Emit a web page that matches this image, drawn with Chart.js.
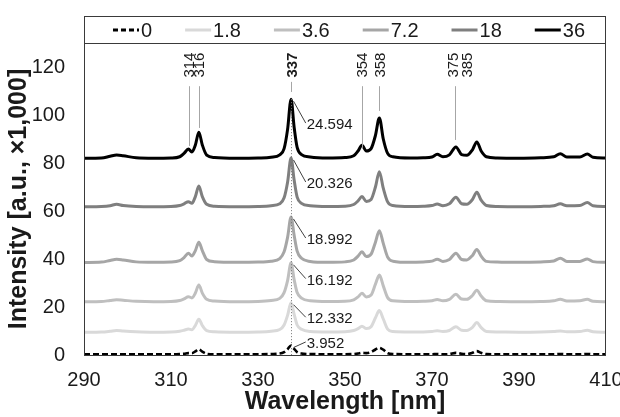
<!DOCTYPE html>
<html><head><meta charset="utf-8">
<script src="https://cdn.jsdelivr.net/npm/chart.js@4.4.1/dist/chart.umd.min.js"></script>
<style>html,body{margin:0;padding:0;background:#fff}#c{display:block}</style>
</head><body>
<canvas id="c" width="620" height="417" style="width:620px;height:417px"></canvas>
<script>
// ---- data ----
const wavelengths = [290,294,296,297.5,299,302,306,310,312,313,314,314.8,315.6,316.4,317.2,318.2,320,325,330,333,335,336,336.8,337.6,338.3,339,340,342,346,350,352,353,353.9,354.9,356,357,357.9,358.8,359.8,361,365,368,370,371.2,372.5,374,375.5,376.8,378,379.3,380.3,381.3,382.5,385,390,395,398,399.5,401,404,405.7,407,410];
const series0  = [0.3,0.3,0.3,0.3,0.3,0.3,0.3,0.3,0.4,0.5,0.8,0.8,1.5,2.4,1.4,0.5,0.3,0.3,0.3,0.4,0.6,1.2,2.4,3.95,2.6,1.2,0.6,0.4,0.3,0.3,0.4,0.6,0.9,0.8,1.2,2.3,3.0,2.2,0.8,0.4,0.3,0.3,0.3,0.4,0.3,0.4,0.9,0.5,0.4,0.9,1.6,0.9,0.4,0.3,0.3,0.3,0.3,0.4,0.3,0.3,0.4,0.3,0.3];
const series1_8 = [9.5,9.6,9.9,10.2,10.0,9.7,9.5,9.6,9.9,10.3,10.8,10.5,12.3,14.9,12.3,10.2,9.7,9.5,9.6,9.9,10.6,12.5,16.5,21.8,17.0,12.5,10.7,9.8,9.6,9.7,10.2,11.0,12.0,11.0,11.8,15.5,18.5,15.0,10.8,9.8,9.6,9.6,9.8,10.1,9.8,10.2,11.8,10.3,10.2,11.5,13.5,11.4,9.8,9.6,9.5,9.6,9.8,10.0,9.7,9.8,10.3,9.7,9.5];
const series3_6 = [22.2,22.3,22.7,23.0,22.8,22.4,22.2,22.3,22.7,23.4,24.3,23.8,25.8,29.2,25.8,23.2,22.5,22.2,22.3,22.7,23.6,26.0,31.0,38.4,31.5,26.0,23.7,22.6,22.3,22.4,23.0,24.2,25.7,24.2,25.0,29.5,33.3,28.8,23.9,22.6,22.3,22.4,22.6,23.1,22.6,23.2,25.3,23.3,23.2,24.8,27.0,24.6,22.6,22.3,22.2,22.3,22.6,23.2,22.5,22.6,23.2,22.4,22.2];
const series7_2 = [38.5,38.7,39.4,39.9,39.6,38.8,38.6,38.7,39.3,40.6,42.4,41.2,43.5,47.0,43.5,39.8,38.9,38.6,38.7,39.1,40.2,43.0,49.0,57.5,50.0,43.3,40.3,39.0,38.6,38.8,39.6,41.2,43.0,41.0,42.0,47.0,51.8,46.5,40.8,39.1,38.6,38.8,39.1,39.9,39.0,39.8,42.4,39.8,39.6,41.5,44.0,41.2,39.0,38.7,38.6,38.8,39.2,40.3,39.0,39.0,40.0,38.9,38.6];
const series18 = [61.8,61.9,62.2,62.8,62.3,61.9,61.8,61.9,62.3,63.0,63.9,63.2,66.0,70.4,66.0,62.8,62.0,61.8,61.9,62.2,63.0,65.5,72.0,82.1,73.0,65.8,63.2,62.2,61.9,62.0,62.7,64.2,66.0,64.0,64.8,70.0,76.4,69.5,63.8,62.3,61.9,62.0,62.3,62.9,62.2,63.0,65.7,63.0,62.8,64.8,67.8,64.5,62.3,61.9,61.8,61.9,62.2,63.0,62.2,62.3,63.5,62.2,61.9];
const series36 = [82.0,82.1,82.8,83.3,83.0,82.2,82.0,82.1,82.6,84.0,85.8,84.6,87.5,92.8,87.5,83.3,82.3,82.0,82.1,82.4,83.4,86.0,94.0,106.6,95.0,86.5,83.5,82.5,82.1,82.3,83.0,85.0,87.4,85.0,86.0,91.5,98.8,90.0,84.0,82.6,82.1,82.2,82.5,83.6,82.6,83.4,86.7,83.5,83.2,85.5,88.8,85.0,82.6,82.1,82.0,82.2,82.6,83.9,82.5,82.5,83.7,82.4,82.1];
const seriesLabels = ['0','1.8','3.6','7.2','18','36'];
const xTickValues = [290,310,330,350,370,390,410];
const yTickValues = [0,20,40,60,80,100,120];
const peakNames = ['314','316','337','354','358','375','385'];
const areaLabels = ['24.594','20.326','18.992','16.192','12.332','3.952'];

// ---- annotation layout (positions in data units) ----
const peakLabelX = [314, 316.3, 337.7, 353.8, 358, 374.9, 378];
const peakLineX = [314.2, 316.5, 337.6, 353.8, 357.9, 375.4, null];
const peakLineTop = [112, 112, 113.8, 112, 112, 112, null];
const peakLineBottom = [87.1, 94.6, 109.6, 86.3, 101.7, 89.6, null];
const areaLabelX = 341.2;
const areaLabelY = [95.8, 71.25, 47.9, 31.0, 14.9, 4.6];
const peakIdx = wavelengths.indexOf(337.6);

const FONT = "'Liberation Sans', Arial, sans-serif";
const TXT = '#1a1a1a';
const seriesData = [series0, series1_8, series3_6, series7_2, series18, series36];
const colors = ['#000000','#d9d9d9','#bfbfbf','#a6a6a6','#7f7f7f','#000000'];

const datasets = seriesData.map((s, i) => ({
  label: seriesLabels[i],
  data: wavelengths.map((w, j) => ({x: w, y: s[j]})),
  borderColor: colors[i],
  backgroundColor: colors[i],
  borderWidth: i === 0 ? 2.6 : 3,
  borderDash: i === 0 ? [6, 3] : [],
  pointRadius: 0,
  fill: false,
  cubicInterpolationMode: 'monotone'
}));

const decor = {
  id: 'decor',
  afterDatasetsDraw(chart) {
    const {ctx, chartArea: a, scales: {x, y}} = chart;
    ctx.save();
    ctx.strokeStyle = '#a6a6a6'; ctx.lineWidth = 1;
    peakLineX.forEach((nm, i) => {
      if (nm === null) return;
      const px = Math.round(x.getPixelForValue(nm)) + 0.5;
      ctx.beginPath();
      ctx.moveTo(px, y.getPixelForValue(peakLineTop[i]));
      ctx.lineTo(px, y.getPixelForValue(peakLineBottom[i]));
      ctx.stroke();
    });
    const pk = Math.round(x.getPixelForValue(wavelengths[peakIdx])) + 0.5;
    ctx.strokeStyle = '#777'; ctx.setLineDash([1, 2]);
    ctx.beginPath();
    ctx.moveTo(pk, y.getPixelForValue(series36[peakIdx]));
    ctx.lineTo(pk, a.bottom);
    ctx.stroke();
    ctx.setLineDash([]);
    const order = [series36, series18, series7_2, series3_6, series1_8, series0];
    ctx.font = '15px ' + FONT; ctx.fillStyle = TXT; ctx.textBaseline = 'middle'; ctx.textAlign = 'left';
    ctx.strokeStyle = '#404040';
    const tx = x.getPixelForValue(areaLabelX);
    areaLabels.forEach((t, i) => {
      const ty = y.getPixelForValue(areaLabelY[i]);
      const py = y.getPixelForValue(order[i][peakIdx]);
      ctx.beginPath();
      ctx.moveTo(pk + 2, py + 2);
      ctx.lineTo(tx - 1, ty - 2);
      ctx.stroke();
      ctx.fillText(t, tx, ty);
    });
    peakNames.forEach((t, i) => {
      ctx.save();
      ctx.translate(x.getPixelForValue(peakLabelX[i]), y.getPixelForValue(120.8));
      ctx.rotate(-Math.PI / 2);
      ctx.font = (t === '337' ? 'bold ' : '') + '15px ' + FONT;
      ctx.textAlign = 'center'; ctx.textBaseline = 'middle';
      ctx.fillText(t, 0, 1);
      ctx.restore();
    });
    ctx.strokeStyle = '#3a3a3a'; ctx.lineWidth = 1;
    ctx.strokeRect(Math.round(a.left) + 0.5, Math.round(a.top) + 0.5, Math.round(a.right - a.left) - 1, Math.round(a.bottom - a.top));
    const lt = 16;
    ctx.strokeRect(Math.round(a.left) + 0.5, lt + 0.5, Math.round(a.right - a.left) - 1, Math.round(a.top) - lt);
    ctx.font = '20px ' + FONT; ctx.textAlign = 'left'; ctx.textBaseline = 'middle';
    const sw = 26, gap = 2, sp = 33;
    const widths = seriesLabels.map(l => sw + gap + ctx.measureText(l).width);
    const total = widths.reduce((p, c) => p + c, 0) + sp * (widths.length - 1);
    let cx = (a.left + a.right) / 2 - total / 2 + 4;
    const ly = (lt + a.top) / 2 + 0.5;
    chart.data.datasets.forEach((d, i) => {
      ctx.strokeStyle = d.borderColor; ctx.lineWidth = 3;
      ctx.setLineDash(i === 0 ? [5, 3] : []);
      ctx.beginPath(); ctx.moveTo(cx, ly); ctx.lineTo(cx + sw, ly); ctx.stroke();
      ctx.setLineDash([]);
      ctx.fillStyle = TXT;
      ctx.fillText(d.label, cx + sw + gap, ly + 1);
      cx += widths[i] + sp;
    });
    ctx.restore();
  }
};

new Chart(document.getElementById('c'), {
  type: 'line',
  data: {datasets},
  options: {
    responsive: false, animation: false, devicePixelRatio: 1,
    layout: {padding: {top: 43, right: 14, bottom: 0, left: 0}},
    plugins: {legend: {display: false}, tooltip: {enabled: false}},
    scales: {
      x: {
        type: 'linear', min: 290, max: 410,
        grid: {display: false, drawTicks: false}, border: {display: false},
        afterBuildTicks: s => { s.ticks = xTickValues.map(v => ({value: v})); },
        afterFit: s => { s.height = 62; s.paddingLeft = 0; s.paddingRight = 0; },
        ticks: {padding: 13, maxRotation: 0, autoSkip: false, color: TXT, font: {family: FONT, size: 20}},
        title: {display: true, text: 'Wavelength [nm]', color: TXT, padding: {top: 0, bottom: 0}, font: {family: FONT, size: 25, weight: 'bold'}}
      },
      y: {
        min: 0, max: 130,
        grid: {display: false, drawTicks: false}, border: {display: false},
        afterBuildTicks: s => { s.ticks = yTickValues.map(v => ({value: v})); },
        afterFit: s => { s.width = 84; s.paddingTop = 0; s.paddingBottom = 0; },
        ticks: {padding: 19, autoSkip: false, color: TXT, font: {family: FONT, size: 20}},
        title: {display: true, text: 'Intensity [a.u., ×1,000]', color: TXT, padding: {top: 4, bottom: 0}, font: {family: FONT, size: 25, weight: 'bold'}}
      }
    }
  },
  plugins: [decor]
});
</script>
</body></html>
